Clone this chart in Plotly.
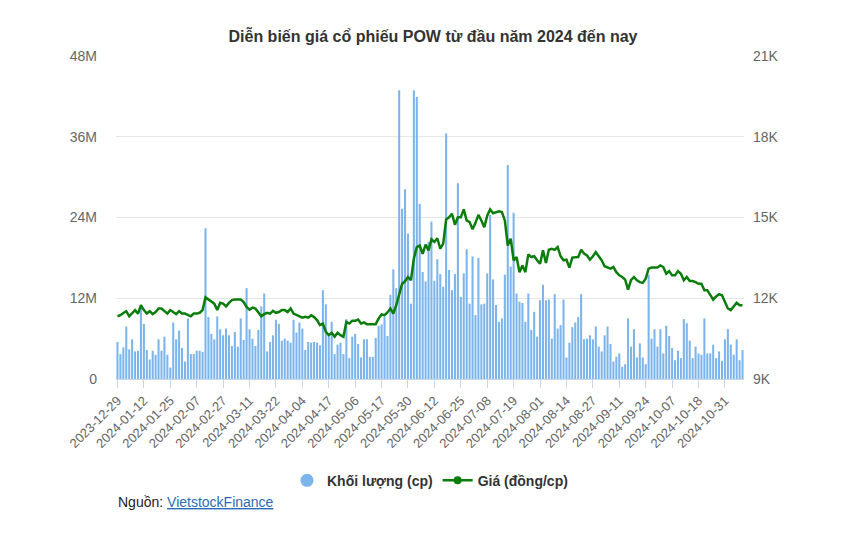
import pandas as pd
import plotly.graph_objs as go

# trading days: Dec 29 2023 -> Nov 08 2024, HOSE holidays removed
start_date = '2023-12-29'
end_date = '2024-11-08'
holidays = ['2024-01-01', '2024-02-08', '2024-02-09', '2024-02-12', '2024-02-13',
            '2024-02-14', '2024-04-18', '2024-04-29', '2024-04-30', '2024-05-01',
            '2024-09-02', '2024-09-03']

# volume, millions of shares
volume = [
    5.5, 3.7, 4.7, 7.8, 4.4, 5.9, 4.1, 4.2, 11.0,
    8.2, 4.3, 2.9, 4.2, 3.6, 5.9, 4.2, 6.3, 3.6,
    1.7, 8.4, 5.9, 7.2, 4.6, 2.6, 9.0, 3.7, 3.7,
    4.2, 4.2, 4.0, 22.4, 9.2, 6.7, 5.9, 9.3, 7.4,
    6.5, 7.5, 6.5, 4.9, 7.0, 4.8,
    9.0, 5.8, 13.5, 7.4, 6.0, 4.9, 7.3, 10.8, 12.7, 4.1,
    5.5, 6.5, 8.8, 8.2, 5.7, 6.0, 5.7, 5.4, 8.8, 6.9,
    8.4, 7.5, 4.3, 5.5, 5.4, 5.5, 5.4, 5.0, 13.2, 11.1,
    6.8, 8.5, 3.7, 5.1, 5.4, 3.7, 8.9, 3.1, 6.3, 6.7,
    5.2, 3.2, 5.9,
    5.9, 3.3, 3.3, 6.1, 7.9, 8.1, 9.3, 6.4, 12.5, 16.3,
    13.5, 42.9, 25.3, 28.2, 21.6, 11.2, 42.9, 41.9, 26.0, 15.9,
    14.5, 20.4, 23.4, 14.6, 17.8, 15.6, 13.7, 36.5, 16.2, 13.2,
    15.6, 29.1, 12.2, 15.7, 19.3, 11.2, 18.2, 9.5, 18.0, 11.1,
    11.2, 15.7, 24.4,
    14.8, 11.0, 8.5, 9.0, 15.5, 31.8, 16.7, 24.7, 12.7, 11.5,
    11.3, 8.5, 12.7, 7.3, 10.0, 6.3, 11.7, 14.0, 11.7, 11.8,
    6.0, 12.6, 7.5, 8.0, 11.8, 3.2, 5.4, 7.7, 8.4, 9.2,
    12.6, 5.9, 6.0, 6.5, 5.9, 7.8, 4.8, 4.1, 6.5, 7.8,
    5.2, 2.6, 3.3,
    3.8, 1.8, 2.2, 9.0, 4.8, 7.4, 3.2, 5.3, 3.2, 2.2,
    15.5, 6.0, 7.4, 4.8, 7.4, 3.8, 7.9, 6.4, 4.6, 2.8,
    4.2, 3.1, 8.9, 8.3, 5.7, 3.1, 4.8, 3.8, 3.6, 9.0,
    3.8, 3.8, 5.1, 3.1, 4.1, 2.7, 5.9, 7.4, 5.1, 3.6,
    5.9, 2.8, 4.3,
]

# closing price, thousand dong
price = [
    11.33, 11.37, 11.45, 11.52, 11.33, 11.46, 11.56, 11.43, 11.74,
    11.56, 11.43, 11.52, 11.41, 11.49, 11.62, 11.62, 11.53, 11.43,
    11.56, 11.49, 11.41, 11.52, 11.43, 11.43, 11.37, 11.33, 11.43,
    11.43, 11.46, 11.56, 12.03, 11.95, 11.86, 11.80, 11.56, 11.83,
    11.80, 11.70, 11.83, 11.93, 11.95, 11.95,
    11.95, 11.86, 11.68, 11.58, 11.65, 11.62, 11.49, 11.33, 11.41, 11.46,
    11.43, 11.53, 11.46, 11.49, 11.56, 11.56, 11.49, 11.62, 11.43, 11.37,
    11.33, 11.28, 11.31, 11.28, 11.37, 11.30, 11.19, 11.00, 11.06, 10.75,
    10.63, 10.72, 10.57, 10.72, 10.63, 10.57, 11.12, 11.06, 11.16, 11.16,
    11.21, 11.06, 11.10,
    11.03, 11.03, 11.03, 11.03, 11.25, 11.40, 11.37, 11.47, 11.62, 11.43,
    11.74, 12.17, 12.54, 12.63, 12.79, 12.67, 13.47, 13.90, 13.96, 13.65,
    13.99, 13.78, 14.19, 14.09, 14.23, 13.84, 14.03, 14.93, 15.01, 15.14,
    14.73, 15.01, 15.01, 15.30, 14.89, 14.83, 14.56, 14.80, 15.10, 14.89,
    14.64, 15.07, 15.30,
    15.16, 15.20, 15.23, 15.20, 14.89, 13.96, 14.21, 13.41, 13.53, 12.97,
    13.22, 12.97, 13.63, 13.53, 13.56, 13.41, 13.28, 13.78, 13.31, 13.80,
    13.84, 13.80, 13.90, 13.56, 13.41, 13.43, 13.14, 13.51, 13.51, 13.53,
    13.80, 13.66, 13.59, 13.43, 13.56, 13.71, 13.56, 13.41, 13.19, 13.14,
    13.10, 13.16, 12.97,
    12.85, 12.79, 12.69, 12.32, 12.67, 12.79, 12.67, 12.60, 12.57, 12.73,
    13.10, 13.14, 13.14, 13.14, 13.22, 13.16, 12.91, 13.01, 12.85, 12.85,
    13.01, 12.91, 12.67, 12.79, 12.64, 12.64, 12.60, 12.54, 12.54, 12.30,
    12.30, 12.11, 11.95, 12.07, 12.15, 12.11, 11.86, 11.62, 11.56, 11.68,
    11.83, 11.74, 11.74,
]

vol_ticks = [0, 12, 24, 36, 48]
vol_labels = ['0', '12M', '24M', '36M', '48M']
price_ticks = [9, 12, 15, 18, 21]
price_labels = ['9K', '12K', '15K', '18K', '21K']

days = pd.bdate_range(start_date, end_date)
days = days[~days.isin(pd.to_datetime(holidays))]
dates = [d.strftime('%Y-%m-%d') for d in days]

BAR_COLOR = '#7cb5ec'
LINE_COLOR = '#0b7d0b'
GRID = '#e6e6e6'
TXT = '#666666'

fig = go.Figure()

fig.add_trace(go.Bar(
    x=dates,
    y=[v * 1e6 for v in volume],
    marker=dict(color=BAR_COLOR, line=dict(width=0)),
    name='Khối lượng (cp)',
    showlegend=False,
))

fig.add_trace(go.Scatter(
    x=dates,
    y=[p * 1000 for p in price],
    yaxis='y2',
    mode='lines',
    line=dict(color=LINE_COLOR, width=2.5),
    name='Giá (đồng/cp)',
    showlegend=False,
))

# legend entries (circle for volume, line+dot for price)
fig.add_trace(go.Scatter(
    x=[None], y=[None], mode='markers',
    marker=dict(color=BAR_COLOR, size=13, symbol='circle'),
    name='Khối lượng (cp)',
))
fig.add_trace(go.Scatter(
    x=[None], y=[None], mode='lines+markers',
    line=dict(color=LINE_COLOR, width=2.5),
    marker=dict(color=LINE_COLOR, size=8),
    name='Giá (đồng/cp)',
))

# page body has an 8px margin, so everything is pulled up/left by 8px
fig.update_layout(
    width=850,
    height=538,
    paper_bgcolor='white',
    plot_bgcolor='white',
    font=dict(family='Liberation Sans, Arial, sans-serif', size=13, color=TXT),
    title=dict(
        text='<b>Diễn biến giá cổ phiếu POW từ đầu năm 2024 đến nay</b>',
        x=0.5, xanchor='center',
        y=0.948, yanchor='middle',
        font=dict(size=16, color='#333333'),
    ),
    margin=dict(l=108, r=114, t=48, b=167),
    bargap=0.3,
    xaxis=dict(
        type='category',
        range=[-0.5, len(dates) - 0.5],
        tickmode='array',
        tickvals=dates[::9],
        ticktext=dates[::9],
        tickangle=-45,
        ticks='outside',
        ticklen=8,
        tickcolor='#ccd6eb',
        showgrid=False,
        showline=True,
        linecolor='#ccd6eb',
        linewidth=1,
        tickfont=dict(size=13, color=TXT),
    ),
    yaxis=dict(
        range=[0, 48e6],
        tickmode='array',
        tickvals=[t * 1e6 for t in vol_ticks],
        ticktext=vol_labels,
        showgrid=True,
        gridcolor=GRID,
        gridwidth=1,
        zeroline=False,
        ticks='',
        ticklabelstandoff=18,
        tickfont=dict(size=14, color=TXT),
    ),
    yaxis2=dict(
        overlaying='y',
        side='right',
        range=[9000, 21000],
        tickmode='array',
        tickvals=[t * 1000 for t in price_ticks],
        ticktext=price_labels,
        showgrid=False,
        zeroline=False,
        ticks='',
        ticklabelstandoff=8,
        tickfont=dict(size=14, color=TXT),
    ),
    legend=dict(
        orientation='h',
        x=0.5, xanchor='center',
        y=-0.315, yanchor='middle',
        font=dict(size=14, color='#333333', family='Liberation Sans, Arial, sans-serif'),
        traceorder='normal',
        itemwidth=30,
    ),
)
fig.update_layout(legend_font_weight='bold')

fig.add_annotation(
    xref='paper', yref='paper',
    x=0.0, y=-0.381, xanchor='left', yanchor='middle',
    text="Nguồn: <span style='color:#2a6db5'><u>VietstockFinance</u></span>",
    showarrow=False,
    font=dict(size=14, color='#222222'),
)

fig.write_html("out.html")
